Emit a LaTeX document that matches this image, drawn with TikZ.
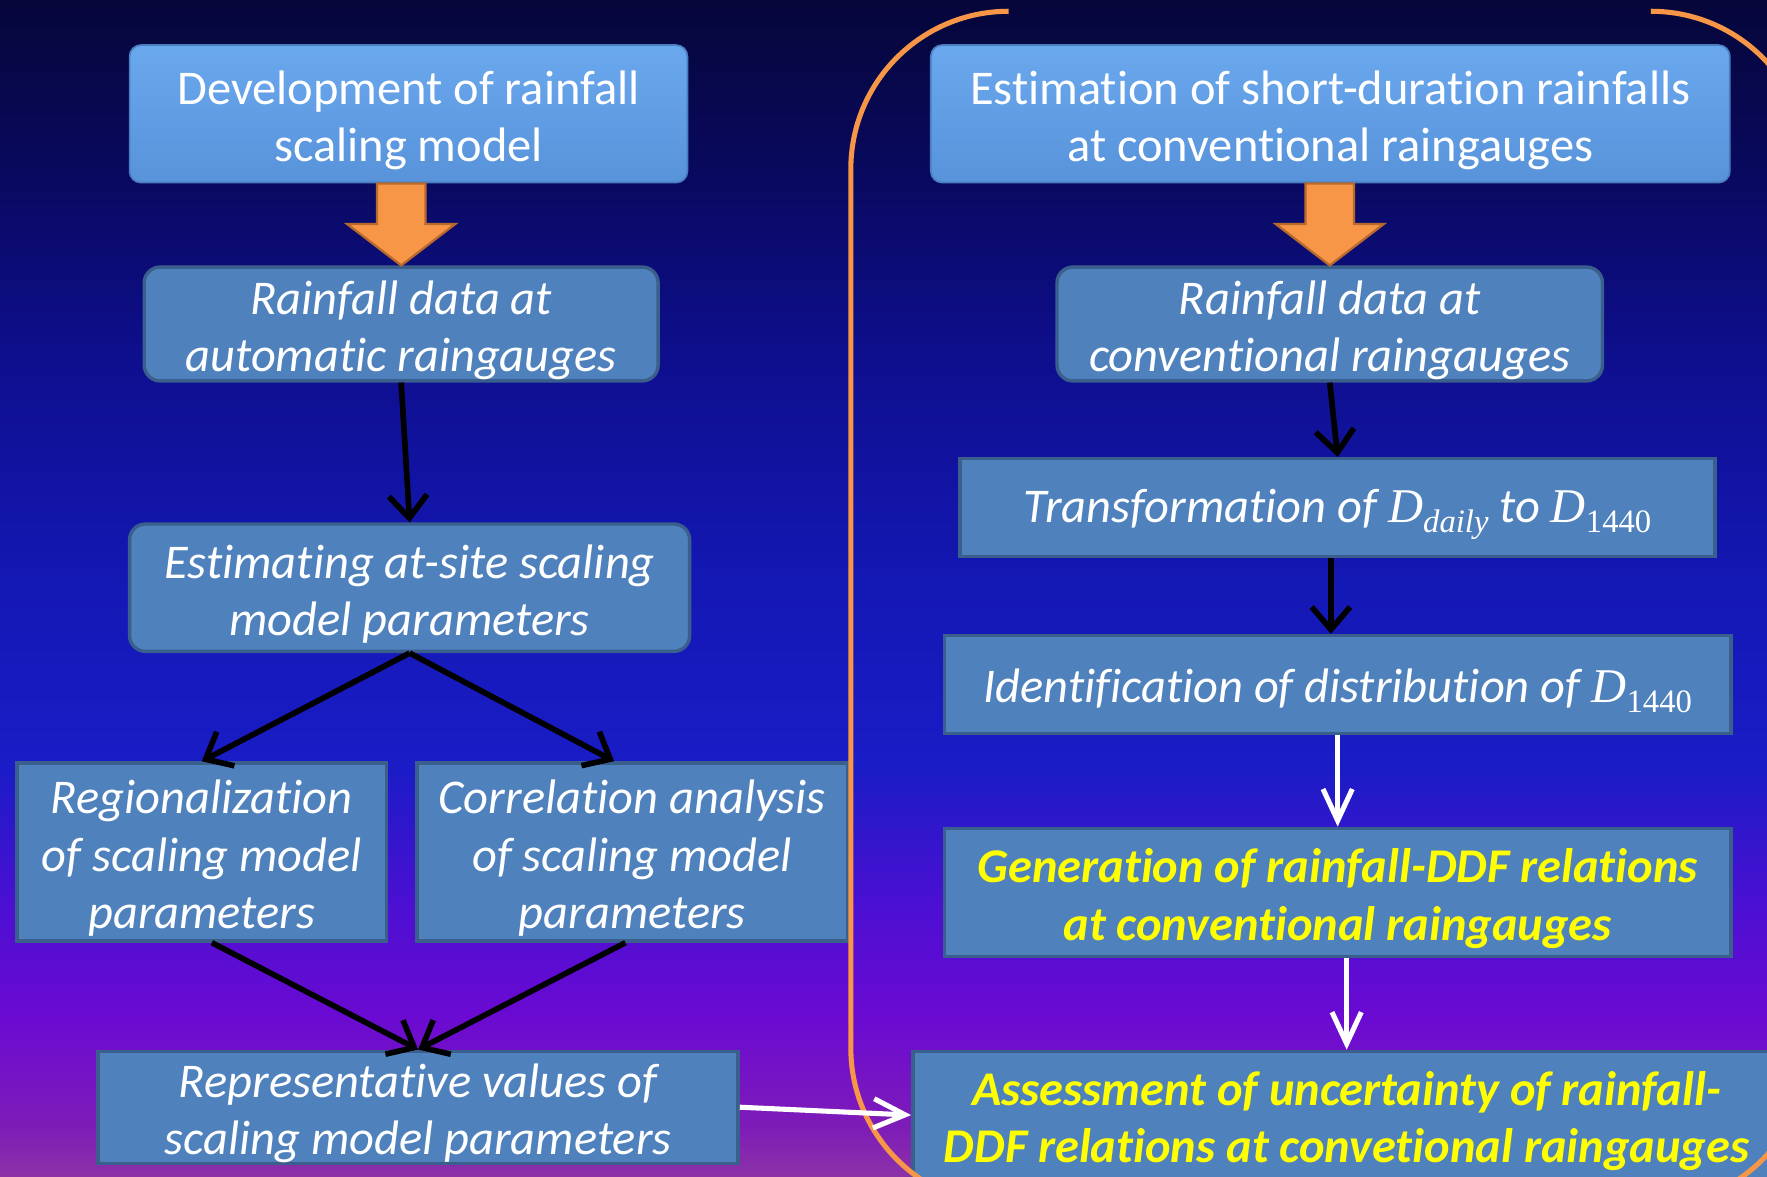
\documentclass[tikz,border=0pt]{standalone}
\usepackage{fontspec}
\setmainfont{Carlito}[Ligatures={NoCommon}]
\newfontfamily\symserif{Liberation Serif}
\usetikzlibrary{arrows.meta,calc}

% italic serif variable with a lowered, smaller index
\newcommand\Dvar[1]{{\symserif\itshape D}\raisebox{-9pt}{\fontsize{29}{29}\selectfont\symserif #1}}
% tall strut that sets the first text line a little lower in its box
\newcommand\lowerstrut{\rule{0pt}{41pt}}

% palette
\definecolor{boxfill}{HTML}{4F81BD}
\definecolor{boxline}{HTML}{3B5F8C}
\definecolor{headtop}{HTML}{6AA8EE}
\definecolor{headbot}{HTML}{5893DA}
\definecolor{headline}{HTML}{4A7EC0}
\definecolor{orangeA}{HTML}{F79646}
\definecolor{orangeB}{HTML}{B8692C}
\definecolor{ddfyellow}{HTML}{FFFF00}

% background ramp, top to bottom
\definecolor{bgA}{HTML}{06063A}
\definecolor{bgB}{HTML}{09095E}
\definecolor{bgC}{HTML}{0E0F8E}
\definecolor{bgD}{HTML}{1418B4}
\definecolor{bgE}{HTML}{1A1CC6}
\definecolor{bgF}{HTML}{4A10D2}
\definecolor{bgG}{HTML}{6A0AD2}
\definecolor{bgH}{HTML}{7E1CB8}
\definecolor{bgI}{HTML}{8C32A6}
\pgfdeclareverticalshading{skyramp}{100bp}{%
  color(0bp)=(bgI); color(25bp)=(bgI); color(27.1bp)=(bgH); color(31.9bp)=(bgG);
  color(36.7bp)=(bgF); color(42.4bp)=(bgE); color(50.1bp)=(bgD);
  color(59.7bp)=(bgC); color(67.8bp)=(bgB); color(75bp)=(bgA); color(100bp)=(bgA)}

\tikzset{
  txt/.style={text=white, align=center, inner sep=0pt,
    font=\fontsize{43}{51}\selectfont},
  headbox/.style={txt, top color=headtop, bottom color=headbot, draw=headline,
    line width=1.5pt, rounded corners=10pt},
  roundbox/.style={txt, font=\fontsize{43}{51}\selectfont\itshape,
    fill=boxfill, draw=boxline, line width=3pt, rounded corners=14pt},
  flatbox/.style={txt, font=\fontsize{43}{51}\selectfont\itshape,
    fill=boxfill, draw=boxline, line width=3pt},
  hilite/.style={text=ddfyellow, font=\fontsize{43}{51}\selectfont\bfseries\itshape},
  darkarrow/.style={draw=black, line width=5pt,
    -{Straight Barb[length=20pt,width=34pt]}},
  lightarrow/.style={draw=white, line width=4.5pt,
    -{Straight Barb[length=28pt,width=26pt]}},
  blockarrow/.style={fill=orangeA, draw=orangeB, line width=2pt, line join=miter},
  frame/.style={draw=orangeA, line width=4.5pt, rounded corners=140pt}
}

\begin{document}
\begin{tikzpicture}[x=1pt,y=-1pt]
\useasboundingbox (0,0) rectangle (1568,1044);
\clip (0,0) rectangle (1568,1044);
\shade[shading=skyramp] (0,0) rectangle (1568,1044);

% left column: scaling model
\node[headbox, minimum width=495pt, minimum height=122pt] (A) at (362.5,101)
  {\lowerstrut Development of rainfall\\scaling model};
\node[roundbox, minimum width=456pt, minimum height=101pt] (B) at (356,287.5)
  {\lowerstrut Rainfall data at\\automatic raingauges};
\node[roundbox, minimum width=497pt, minimum height=113pt] (C) at (363.5,521.5)
  {\lowerstrut Estimating at-site scaling\\model parameters};
\node[flatbox, minimum width=328pt, minimum height=158pt] (D) at (179,756)
  {\lowerstrut Regionalization\\of scaling model\\parameters};
\node[flatbox, minimum width=382pt, minimum height=158pt] (E) at (561,756)
  {\lowerstrut Correlation analysis\\of scaling model\\parameters};
\node[flatbox, minimum width=568pt, minimum height=99pt] (F) at (371,982.5)
  {\lowerstrut Representative values of\\scaling model parameters};

% right column: conventional raingauges
\node[headbox, minimum width=709pt, minimum height=122pt] (H) at (1180.5,101)
  {\lowerstrut Estimation of short-duration rainfalls\\at conventional raingauges};
\node[roundbox, minimum width=484pt, minimum height=101pt] (I) at (1180,287.5)
  {\lowerstrut Rainfall data at\\conventional raingauges};
\node[flatbox, minimum width=670pt, minimum height=87pt] (J) at (1187,450.5)
  {\lowerstrut Transformation of \Dvar{\itshape daily} to \Dvar{\upshape 1440}};
\node[flatbox, minimum width=698pt, minimum height=87pt] (K) at (1187,607.5)
  {\lowerstrut Identification of distribution of \Dvar{\upshape 1440}};
\node[flatbox, hilite, minimum width=698pt, minimum height=114pt] (L) at (1187,792)
  {\lowerstrut Generation of rainfall-DDF relations\\at conventional raingauges};
\node[flatbox, hilite, minimum width=790pt, minimum height=113pt] (M) at (1205,989.5)
  {\lowerstrut\hspace*{-20pt}Assessment of uncertainty of rainfall-\\\hspace*{-20pt}DDF relations at convetional raingauges};

% bracket round the right column
\draw[frame] (895,10) -- (755,10) -- (755,1070) -- (1605,1070) -- (1605,10) -- (1465,10);

% orange block arrows under the headings
\foreach \src/\dst in {A/B, H/I}{
  \coordinate (base) at (\src.south -| \dst.north);
  \draw[blockarrow] ($(base)+(-21.5,0)$) -- ($(base)+(-21.5,36)$)
    -- ($(base)+(-48,36)$) -- (\dst.north) -- ($(base)+(48,36)$)
    -- ($(base)+(21.5,36)$) -- ($(base)+(21.5,0)$) -- cycle;
}

% connectors
\draw[darkarrow] (B.south) -- (C.north);
\draw[darkarrow] (C.south) -- (D.north);
\draw[darkarrow] (C.south) -- ($(E.north)+(-16,0)$);
\draw[darkarrow] ($(D.south)+(9,0)$) -- (F.north);
\draw[darkarrow] ($(E.south)+(-6,0)$) -- (F.north);
\draw[darkarrow] (I.south) -- (J.north);
\draw[darkarrow] ($(J.south)+(-6,0)$) -- ($(K.north)+(-6,0)$);
\draw[lightarrow] (K.south) -- (L.north);
\draw[lightarrow] ($(L.south -| M.north)+(-10,0)$) -- ($(M.north)+(-10,0)$);
\draw[lightarrow] (F.east) -- (M.west);
\end{tikzpicture}
\end{document}
